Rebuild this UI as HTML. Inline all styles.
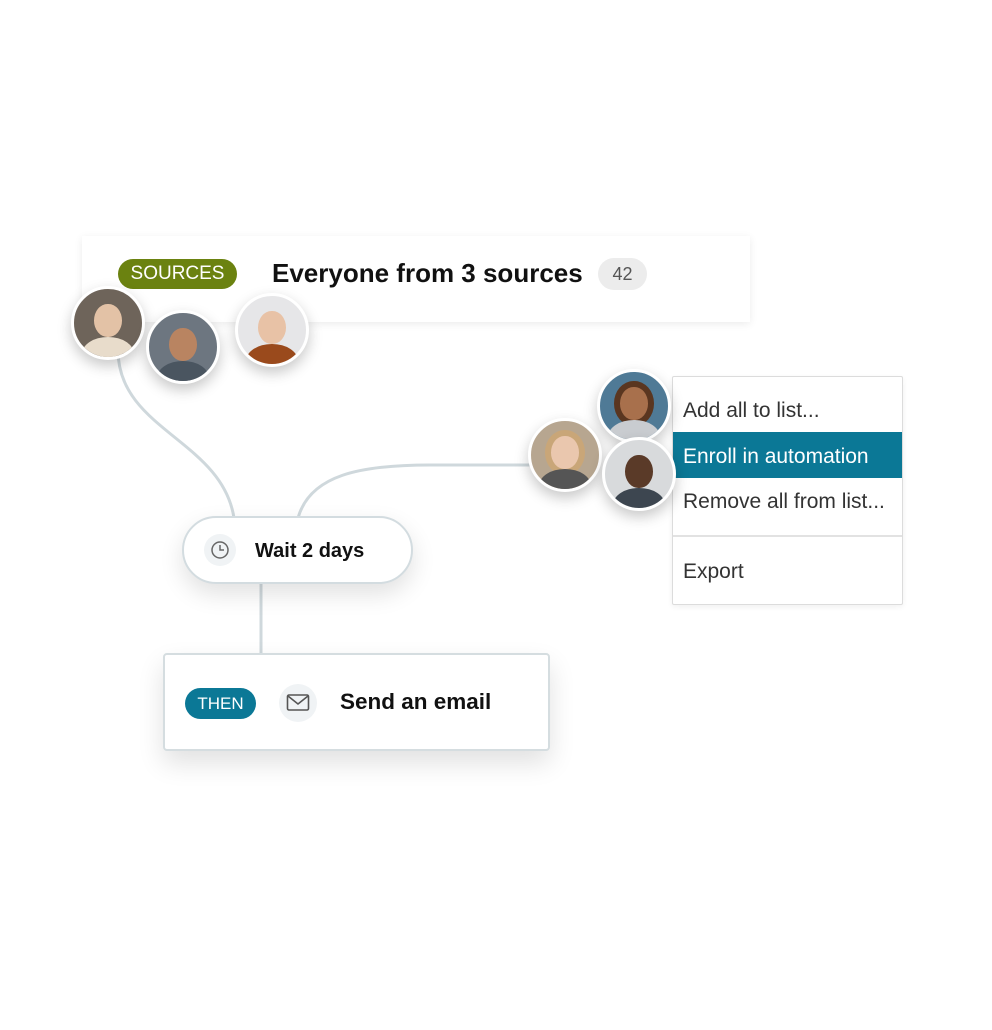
<!DOCTYPE html>
<html><head><meta charset="utf-8"><style>
*{margin:0;padding:0;box-sizing:border-box}
body{width:992px;height:1030px;background:#fff;position:relative;overflow:hidden;font-family:"Liberation Sans",sans-serif}
.abs{position:absolute}
.av{position:absolute;border-radius:50%;border:3px solid #fff;box-shadow:0 6px 14px rgba(0,0,0,.22);overflow:hidden}
.av .face{position:absolute;left:30%;top:22%;width:40%;height:48%;border-radius:50%}
.av .body{position:absolute;left:12%;top:70%;width:76%;height:50%;border-radius:50% 50% 0 0}
</style></head><body>
<svg class="abs" style="left:0;top:0" width="992" height="1030">
<path d="M118,350 C118,430 222,440 234,518" stroke="#cfd8dc" stroke-width="3" fill="none"/>
<path d="M298,518 C310,475 360,465 430,465 L540,465" stroke="#cfd8dc" stroke-width="3" fill="none"/>
<line x1="261" y1="584" x2="261" y2="654" stroke="#cfd8dc" stroke-width="3"/>
</svg>
<div class="abs" style="left:82px;top:236px;width:668px;height:86px;background:#fff;box-shadow:0 2px 8px rgba(0,0,0,.08)"></div>
<div class="abs" style="left:118px;top:259px;width:119px;height:30px;border-radius:15px;background:#6b8210;color:#fff;font-size:19px;line-height:30px;text-align:center">SOURCES</div>
<div class="abs" style="left:272px;top:257px;font-size:26px;font-weight:bold;color:#111;line-height:32px">Everyone from 3 sources</div>
<div class="abs" style="left:598px;top:258px;width:49px;height:32px;border-radius:16px;background:#ececec;color:#555;font-size:18px;line-height:32px;text-align:center">42</div>
<div class="av" style="left:71px;top:286px;width:74px;height:74px;background:#6e645a"><div class="face" style="background:#e3c2a6"></div><div class="body" style="background:#e8dccb"></div></div>
<div class="av" style="left:146px;top:310px;width:74px;height:74px;background:#6d7680"><div class="face" style="background:#b98461"></div><div class="body" style="background:#4a5560"></div></div>
<div class="av" style="left:235px;top:293px;width:74px;height:74px;background:#e6e6e8"><div class="face" style="background:#e8c2a6"></div><div class="body" style="background:#9a4a1c"></div></div>
<div class="abs" style="left:182px;top:516px;width:231px;height:68px;border-radius:34px;background:#fff;border:2px solid #d3dce0;box-shadow:0 10px 24px rgba(0,0,0,.12)"></div>
<div class="abs" style="left:204px;top:534px;width:32px;height:32px;border-radius:50%;background:#f0f3f5"></div>
<svg class="abs" style="left:210px;top:540px" width="20" height="20"><circle cx="10" cy="10" r="8" stroke="#666" stroke-width="1.5" fill="none"/><path d="M10,5 V10 H14" stroke="#666" stroke-width="1.5" fill="none"/></svg>
<div class="abs" style="left:255px;top:538px;font-size:20px;font-weight:bold;color:#111;line-height:26px">Wait 2 days</div>
<div class="abs" style="left:163px;top:653px;width:387px;height:98px;border-radius:4px;background:#fff;border:2px solid #d5dde0;box-shadow:0 12px 26px rgba(0,0,0,.12)"></div>
<div class="abs" style="left:185px;top:688px;width:71px;height:31px;border-radius:16px;background:#0b7896;color:#fff;font-size:17px;line-height:31px;text-align:center">THEN</div>
<div class="abs" style="left:279px;top:684px;width:38px;height:38px;border-radius:50%;background:#f0f3f5"></div>
<svg class="abs" style="left:286px;top:693px" width="24" height="20"><rect x="1.5" y="2" width="21" height="15" rx="1.5" stroke="#555" stroke-width="1.6" fill="none"/><path d="M2,3 L12,11 L22,3" stroke="#555" stroke-width="1.6" fill="none"/></svg>
<div class="abs" style="left:340px;top:688px;font-size:22.5px;font-weight:bold;color:#111;line-height:28px">Send an email</div>
<div class="abs" style="left:672px;top:376px;width:231px;height:229px;background:#fff;border:1.5px solid #dcdcdc;border-radius:2px;box-shadow:0 2px 6px rgba(0,0,0,.06)"></div>
<div class="abs" style="left:673px;top:432px;width:229px;height:46px;background:#0b7896"></div>
<div class="abs" style="left:673px;top:535px;width:229px;height:2px;background:#e2e2e2"></div>
<div class="abs" style="left:683px;top:398px;font-size:21px;color:#333;line-height:26px">Add all to list...</div>
<div class="abs" style="left:683px;top:444px;font-size:21px;color:#fff;line-height:26px">Enroll in automation</div>
<div class="abs" style="left:683px;top:489px;font-size:21px;color:#333;line-height:26px">Remove all from list...</div>
<div class="abs" style="left:683px;top:559px;font-size:21px;color:#333;line-height:26px">Export</div>
<div class="av" style="left:597px;top:369px;width:74px;height:74px;background:#4f7a96"><div class="face" style="background:#a8704c;box-shadow:0 0 0 6px #5a3620"></div><div class="body" style="background:#c9ccd0"></div></div>
<div class="av" style="left:528px;top:418px;width:74px;height:74px;background:#b7a690"><div class="face" style="background:#eac7ae;box-shadow:0 0 0 6px #c9a678"></div><div class="body" style="background:#555"></div></div>
<div class="av" style="left:602px;top:437px;width:74px;height:74px;background:#d8dadc"><div class="face" style="background:#5a3a28"></div><div class="body" style="background:#3d4650"></div></div>
</body></html>
